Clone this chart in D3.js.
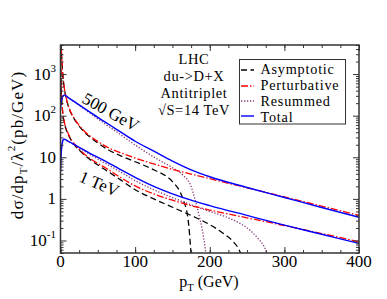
<!DOCTYPE html>
<html><head><meta charset="utf-8">
<script src="https://cdn.jsdelivr.net/npm/d3@7"></script>
<style>
html,body{margin:0;padding:0;background:#fff;}
svg{display:block;font-family:"Liberation Serif","Times New Roman",serif;}
</style></head>
<body>
<svg id="c" width="387" height="299"></svg>
<script>
// ---------- data (pT in GeV, dσ/dpT/λ² in pb/GeV) ----------
// 500 GeV
const up_total_pt = [0,0.5,1,2,3,4,5,6,8,10,15,20,30,40,50,60,75,100,125,150,175,200,250,300,350,400];
const up_total    = [151,185,215,262,290,306,312,309,295,275,240,209,158,120,91,70,47,24.3,14.1,8.1,5.0,3.4,1.88,1.08,0.62,0.36];
const up_pert_pt  = [0.8,1,1.5,2,3,4,5,7,10,13,17,22,30,40,50,65,80,100,125,150,175,200,250,300,350,400];
const up_pert     = [9000,5600,2800,1860,1000,660,480,300,186,132,95,69,46,32,24,16.6,13.0,9.6,6.9,5.1,3.95,3.05,1.85,1.12,0.67,0.40];
const up_asym_pt  = [0.8,1,1.5,2,3,4,5,7,10,13,17,22,30,40,50,65,80,100,125,150,160,165,170,172,174,175];
const up_asym     = [9000,5600,2800,1860,1000,650,470,295,182,128,92,66,44,30,22,14.8,11,7.8,5.0,2.6,1.5,0.9,0.42,0.22,0.08,0.045];
const up_resum_pt = [0,1,2,3,4,5,6,8,10,15,20,30,40,50,60,75,90,110,130,150,165,175,180,185,190,194,196];
const up_resum    = [150,213,260,287,305,310,306,292,272,237,205,153,113,84,63,41,26.5,15,9.0,5.6,3.6,2.0,1.0,0.45,0.18,0.063,0.032];
// 1 TeV
const lo_total_pt = [0,0.5,1,2,3,4,5,6,8,10,15,20,30,40,50,60,80,100,125,150,175,200,250,300,350,400];
const lo_total    = [4.5,7.9,12.6,20,25,27,27.2,26.9,25.7,24.5,21.9,19.5,15.5,12.3,10.0,8.1,5.1,3.3,2.0,1.32,0.93,0.69,0.40,0.234,0.141,0.085];
const lo_pert_pt  = [0.5,1,2,3,5,7,9,12,15,20,30,40,50,60,80,100,125,150,175,200,250,300,350,400];
const lo_pert     = [1300,450,200,120,72,52,42,32,25.7,19.5,12.9,9.3,7.1,5.6,3.3,2.05,1.32,0.93,0.69,0.54,0.35,0.229,0.147,0.093];
const lo_asym_pt  = [0.5,1,2,3,5,7,9,12,15,20,30,40,50,60,80,100,125,150,175,200,220,230,240,245];
const lo_asym     = [1300,445,197,118,70,50,40,30.5,24.5,18.5,12.3,8.7,6.5,5.0,2.9,1.66,1.0,0.63,0.40,0.24,0.14,0.10,0.056,0.032];
const lo_resum_pt = [0,0.5,1,2,3,4,5,6,8,10,15,20,30,40,50,60,80,100,125,150,175,200,220,240,255,265,272,278];
const lo_resum    = [4.5,7.9,12.5,19.8,24.8,26.8,27,26.7,25.5,24.2,21.5,19.0,14.8,11.5,9.1,7.2,4.5,2.75,1.66,1.07,0.72,0.50,0.38,0.26,0.17,0.11,0.076,0.045];

const xTicks = [0,100,200,300,400];
const yTicks = [0.1,1,10,100,1000];
const yTickLabels = [["10","-1"],["1",""],["10",""],["10","2"],["10","3"]];
const legendNames = ["Asymptotic","Perturbative","Resummed","Total"];
const infoLines = ["LHC","du->D+X","Antitriplet","\u221AS=14 TeV"];

// ---------- drawing ----------
const svg = d3.select("#c");
const L=60.5, R=359, T=45, B=253;
const x = d3.scaleLinear().domain([0,400]).range([L,R]);
const y = d3.scaleLog().domain([0.05,5000]).range([B,T]);

const styles = {
  asym:  {stroke:"#000", dash:"6,3.5", w:1.3},
  pert:  {stroke:"#ff0000", dash:"7,2,1.5,2", w:1.3},
  resum: {stroke:"#8a3a7a", dash:"1.3,1.7", w:1.3},
  total: {stroke:"#0000ff", dash:null, w:1.4}
};

svg.append("defs").append("clipPath").attr("id","clip")
  .append("rect").attr("x",L).attr("y",T).attr("width",R-L).attr("height",B-T);

const line = d3.line().x(d=>x(d[0])).y(d=>y(d[1])).curve(d3.curveMonotoneX);
const series = [
  [up_asym_pt, up_asym, "asym"], [lo_asym_pt, lo_asym, "asym"],
  [up_resum_pt, up_resum, "resum"], [lo_resum_pt, lo_resum, "resum"],
  [up_pert_pt, up_pert, "pert"], [lo_pert_pt, lo_pert, "pert"],
  [up_total_pt, up_total, "total"], [lo_total_pt, lo_total, "total"]
];
const g = svg.append("g").attr("clip-path","url(#clip)");
series.forEach(([px,py,k])=>{
  const s = styles[k];
  g.append("path").datum(px.map((p,i)=>[p,py[i]]))
    .attr("d",line).attr("fill","none").attr("stroke",s.stroke)
    .attr("stroke-width",s.w).attr("stroke-dasharray",s.dash);
});

// axes (inward ticks on all four sides)
const axCol = "#333";
function styleAxis(sel){ sel.select(".domain").remove(); sel.selectAll("line").attr("stroke",axCol).attr("stroke-width",1); sel.selectAll("text").remove(); }
const xMinor = d3.range(0,401,25);
svg.append("g").attr("transform",`translate(0,${B})`).call(d3.axisBottom(x).tickValues(xMinor).tickSize(-3)).call(styleAxis);
svg.append("g").attr("transform",`translate(0,${B})`).call(d3.axisBottom(x).tickValues(xTicks).tickSize(-6)).call(styleAxis);
svg.append("g").attr("transform",`translate(0,${T})`).call(d3.axisTop(x).tickValues(xMinor).tickSize(-3)).call(styleAxis);
svg.append("g").attr("transform",`translate(0,${T})`).call(d3.axisTop(x).tickValues(xTicks).tickSize(-6)).call(styleAxis);
const yMinor = [];
[0.01,0.1,1,10,100,1000].forEach(d=>{for(let k=2;k<=9;k++){const v=d*k; if(v>=0.05&&v<=5000) yMinor.push(v);}});
svg.append("g").attr("transform",`translate(${L},0)`).call(d3.axisLeft(y).tickValues(yMinor).tickSize(-3)).call(styleAxis);
svg.append("g").attr("transform",`translate(${L},0)`).call(d3.axisLeft(y).tickValues(yTicks).tickSize(-6)).call(styleAxis);
svg.append("g").attr("transform",`translate(${R},0)`).call(d3.axisRight(y).tickValues(yMinor).tickSize(-3)).call(styleAxis);
svg.append("g").attr("transform",`translate(${R},0)`).call(d3.axisRight(y).tickValues(yTicks).tickSize(-6)).call(styleAxis);
svg.append("rect").attr("x",L).attr("y",T).attr("width",R-L).attr("height",B-T)
  .attr("fill","none").attr("stroke",axCol).attr("stroke-width",1.5);

// tick labels
svg.append("g").selectAll("text").data(xTicks).join("text")
  .attr("x",d=>x(d)).attr("y",267).attr("text-anchor","middle")
  .attr("font-size",17).text(d=>d);
const yl = svg.append("g").selectAll("text").data(yTicks).join("text")
  .attr("x",56).attr("y",(d)=>y(d)+5.5).attr("text-anchor","end").attr("font-size",17);
yl.each(function(d,i){
  const t=d3.select(this); const [b,s]=yTickLabels[i];
  t.append("tspan").text(b);
  if(s) t.append("tspan").attr("font-size",11).attr("dy",-8).text(s);
});

// axis titles
const xt = svg.append("text").attr("x",209).attr("y",287).attr("text-anchor","middle").attr("font-size",16);
xt.append("tspan").text("p");
xt.append("tspan").attr("font-size",10.5).attr("dy",4).text("T");
xt.append("tspan").attr("dy",-4).text(" (GeV)");

const yt = svg.append("text").attr("transform","translate(23,145) rotate(-90)").attr("text-anchor","middle")
  .attr("font-size",17).attr("letter-spacing",1.1);
yt.append("tspan").text("d\u03C3/dp");
yt.append("tspan").attr("font-size",11).attr("dy",4).text("T");
yt.append("tspan").attr("dy",-4).text("/\u03BB");
yt.append("tspan").attr("font-size",11).attr("dy",-8).text("2");
yt.append("tspan").attr("dy",8).text("(pb/GeV)");

// curve labels
svg.append("text").attr("transform","translate(108,117) rotate(29)").attr("text-anchor","middle").attr("font-size",17).text("500 GeV");
svg.append("text").attr("transform","translate(97,189) rotate(23)").attr("text-anchor","middle").attr("font-size",17).text("1 TeV");

// info text
const infoY = [64,81,98,115];
svg.append("g").selectAll("text").data(infoLines).join("text")
  .attr("x",194).attr("y",(d,i)=>infoY[i]).attr("text-anchor","middle")
  .attr("font-size",14.5).attr("letter-spacing",0.6).text(d=>d);

// legend
svg.append("rect").attr("x",239.5).attr("y",59.5).attr("width",106).attr("height",64.5)
  .attr("fill","#fff").attr("stroke",axCol).attr("stroke-width",1);
const legKeys = ["asym","pert","resum","total"];
const legLineY = [70,86,101,116];
const legTextY = [74,90,106,122];
legKeys.forEach((k,i)=>{
  const s=styles[k];
  svg.append("line").attr("x1",241).attr("x2",254).attr("y1",legLineY[i]).attr("y2",legLineY[i])
    .attr("stroke",s.stroke).attr("stroke-width",s.w).attr("stroke-dasharray",s.dash);
  svg.append("text").attr("x",260.5).attr("y",legTextY[i]).attr("font-size",14.2).attr("letter-spacing",0.8).text(legendNames[i]);
});
</script>
</body></html>
